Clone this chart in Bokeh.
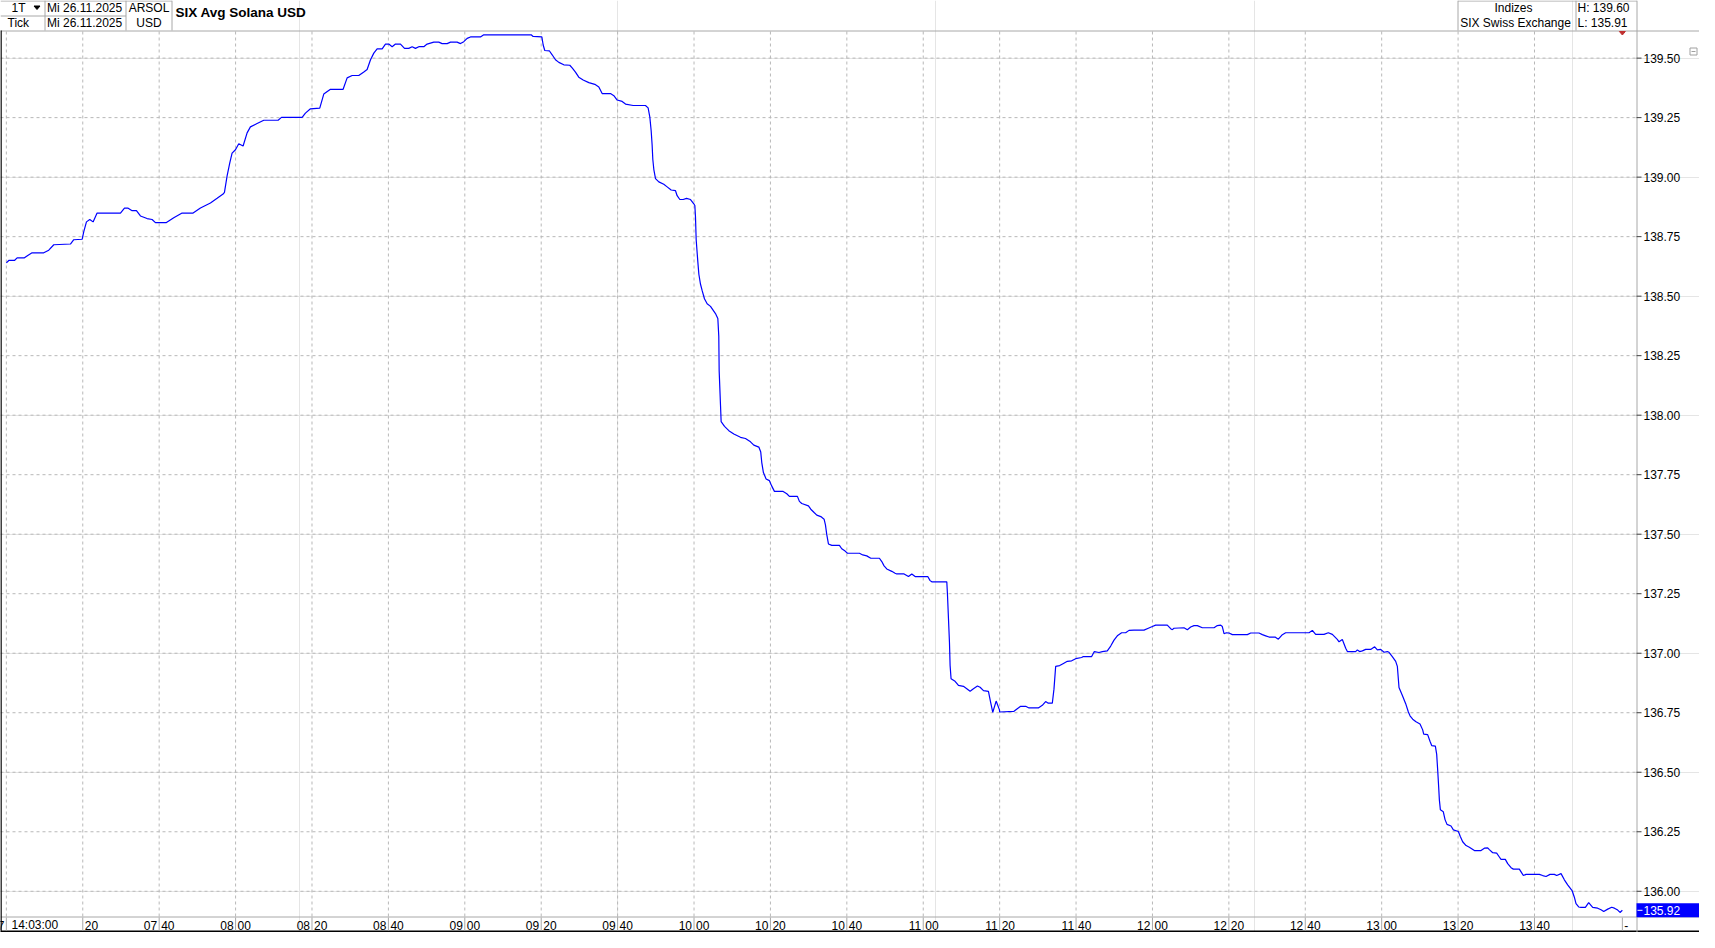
import pandas as pd
from bokeh.plotting import figure
from bokeh.models import Range1d
from bokeh.core.properties import value
from bokeh.embed import file_html
from bokeh.resources import INLINE

# ---------------- data ----------------
DATE = "2025-11-26"
TITLE = "SIX Avg Solana USD"
SYMBOL = "ARSOL"
CURRENCY = "USD"
MARKET = "SIX Swiss Exchange"
GROUP = "Indizes"
DATE_LABEL = "Mi 26.11.2025"
INTERVAL = "1T"
MODE = "Tick"

times = [
    "07:00:00", "07:00:38", "07:02:07", "07:02:49", "07:04:44", "07:05:36", "07:06:44", "07:09:47",
    "07:11:06", "07:12:25", "07:16:46", "07:17:39", "07:19:50", "07:20:16", "07:20:58", "07:21:50",
    "07:22:42", "07:23:45", "07:29:52", "07:30:55", "07:31:47", "07:32:55", "07:34:03", "07:35:06",
    "07:36:50", "07:38:09", "07:39:01", "07:41:54", "07:43:49", "07:46:00", "07:48:53", "07:50:48",
    "07:53:25", "07:55:10", "07:56:44", "07:57:05", "07:57:47", "07:58:29", "07:59:05", "07:59:58",
    "08:00:50", "08:01:58", "08:03:01", "08:03:53", "08:05:38", "08:07:23", "08:11:08", "08:12:01",
    "08:17:25", "08:18:17", "08:19:36", "08:22:02", "08:23:05", "08:24:50", "08:28:09", "08:29:12",
    "08:30:31", "08:32:15", "08:33:34", "08:34:26", "08:35:19", "08:36:11", "08:37:03", "08:38:22",
    "08:39:14", "08:40:06", "08:40:59", "08:41:51", "08:43:10", "08:44:13", "08:45:20", "08:46:13",
    "08:47:05", "08:47:58", "08:49:16", "08:50:08", "08:51:53", "08:53:11", "08:54:04", "08:55:23",
    "08:56:15", "08:57:59", "08:58:52", "08:59:44", "09:00:37", "09:01:29", "09:04:06", "09:04:58",
    "09:17:22", "09:17:53", "09:20:10", "09:20:31", "09:20:56", "09:22:10", "09:22:52", "09:23:44",
    "09:24:37", "09:25:55", "09:27:29", "09:28:06", "09:28:58", "09:29:50", "09:30:59", "09:32:28",
    "09:34:02", "09:35:05", "09:35:57", "09:38:08", "09:39:01", "09:39:53", "09:41:11", "09:42:04",
    "09:44:04", "09:47:17", "09:47:59", "09:48:26", "09:48:47", "09:49:02", "09:49:13", "09:49:29",
    "09:49:55", "09:50:47", "09:52:05", "09:52:58", "09:54:01", "09:55:09", "09:55:35", "09:56:17",
    "09:57:10", "09:58:02", "09:59:05", "09:59:57", "10:00:13", "10:00:23", "10:00:34", "10:00:59",
    "10:01:16", "10:01:41", "10:02:08", "10:02:44", "10:03:26", "10:04:19", "10:05:37", "10:06:14",
    "10:06:29", "10:06:35", "10:06:56", "10:07:06", "10:07:59", "10:09:07", "10:10:25", "10:12:10",
    "10:13:28", "10:14:47", "10:15:39", "10:16:58", "10:17:28", "10:17:44", "10:18:10", "10:18:52",
    "10:19:44", "10:20:21", "10:21:03", "10:23:14", "10:24:17", "10:24:58", "10:27:04", "10:27:35",
    "10:28:12", "10:29:57", "10:30:34", "10:31:26", "10:32:08", "10:33:11", "10:34:03", "10:34:24",
    "10:34:45", "10:35:11", "10:36:04", "10:38:04", "10:38:40", "10:39:33", "10:40:10", "10:43:18",
    "10:44:10", "10:45:13", "10:46:16", "10:48:32", "10:49:09", "10:49:45", "10:50:27", "10:51:46",
    "10:52:38", "10:53:04", "10:54:59", "10:56:08", "10:57:00", "10:57:52", "11:01:11", "11:01:48",
    "11:02:14", "11:06:10", "11:06:20", "11:06:36", "11:06:52", "11:07:02", "11:07:17", "11:08:20",
    "11:09:13", "11:10:31", "11:11:24", "11:12:16", "11:13:08", "11:14:11", "11:14:53", "11:15:46",
    "11:17:04", "11:17:41", "11:18:12", "11:19:05", "11:19:57", "11:20:00", "11:23:45", "11:24:37",
    "11:25:30", "11:26:49", "11:27:41", "11:30:07", "11:31:10", "11:32:02", "11:32:44", "11:33:47",
    "11:34:13", "11:34:40", "11:35:43", "11:36:35", "11:37:43", "11:38:51", "11:39:54", "11:41:28",
    "11:41:54", "11:44:05", "11:44:47", "11:46:00", "11:46:53", "11:48:11", "11:49:04", "11:49:56",
    "11:50:48", "11:51:56", "11:52:59", "11:53:52", "11:55:10", "11:57:47", "11:58:55", "11:59:58",
    "12:00:50", "12:03:53", "12:04:46", "12:05:12", "12:05:38", "12:08:15", "12:09:08", "12:10:00",
    "12:10:52", "12:11:45", "12:13:03", "12:16:07", "12:16:59", "12:17:51", "12:18:17", "12:18:44",
    "12:19:20", "12:20:02", "12:20:55", "12:24:50", "12:25:43", "12:27:53", "12:28:46", "12:29:38",
    "12:30:31", "12:32:05", "12:32:57", "12:34:00", "12:34:52", "12:40:59", "12:41:51", "12:42:43",
    "12:44:54", "12:46:02", "12:47:05", "12:48:23", "12:48:50", "12:49:42", "12:50:35", "12:51:01",
    "12:53:11", "12:53:38", "12:54:14", "12:54:56", "12:55:49", "12:57:07", "12:58:10", "12:58:52",
    "12:59:44", "13:00:37", "13:01:29", "13:01:55", "13:02:47", "13:03:40", "13:04:06", "13:04:32",
    "13:05:25", "13:06:17", "13:06:59", "13:07:25", "13:08:07", "13:08:59", "13:10:02", "13:10:44",
    "13:11:00", "13:12:02", "13:12:39", "13:13:05", "13:14:03", "13:14:24", "13:14:40", "13:14:55",
    "13:15:06", "13:15:22", "13:16:08", "13:16:35", "13:17:06", "13:18:09", "13:18:46", "13:20:04",
    "13:20:35", "13:21:12", "13:22:05", "13:22:57", "13:24:16", "13:26:00", "13:26:53", "13:27:45",
    "13:28:11", "13:29:04", "13:30:06", "13:30:48", "13:31:14", "13:32:22", "13:32:59", "13:33:52",
    "13:34:28", "13:36:02", "13:36:44", "13:37:05", "13:37:47", "13:41:16", "13:42:09", "13:43:01",
    "13:44:04", "13:45:12", "13:45:49", "13:46:57", "13:47:49", "13:48:41", "13:49:50", "13:50:26",
    "13:50:52", "13:51:34", "13:52:11", "13:53:19", "13:54:11", "13:55:14", "13:56:32", "13:57:25",
    "13:58:07", "13:59:10", "14:00:13", "14:00:55", "14:01:47", "14:02:23", "14:03:00",
]

prices = [
    138.640, 138.650, 138.650, 138.661, 138.661, 138.671, 138.682, 138.682,
    138.693, 138.716, 138.719, 138.737, 138.739, 138.771, 138.812, 138.822,
    138.812, 138.849, 138.849, 138.870, 138.870, 138.859, 138.859, 138.837,
    138.826, 138.822, 138.809, 138.809, 138.829, 138.849, 138.849, 138.870,
    138.891, 138.911, 138.929, 138.936, 139.005, 139.060, 139.101, 139.115,
    139.140, 139.131, 139.186, 139.211, 139.225, 139.239, 139.239, 139.251,
    139.251, 139.269, 139.287, 139.290, 139.349, 139.369, 139.369, 139.417,
    139.427, 139.427, 139.442, 139.452, 139.493, 139.521, 139.539, 139.539,
    139.559, 139.559, 139.548, 139.559, 139.559, 139.541, 139.541, 139.548,
    139.541, 139.548, 139.548, 139.559, 139.567, 139.567, 139.561, 139.561,
    139.567, 139.567, 139.561, 139.569, 139.583, 139.589, 139.589, 139.598,
    139.598, 139.591, 139.589, 139.555, 139.532, 139.530, 139.514, 139.493,
    139.482, 139.472, 139.470, 139.459, 139.441, 139.420, 139.408, 139.397,
    139.390, 139.379, 139.351, 139.351, 139.342, 139.324, 139.318, 139.307,
    139.301, 139.301, 139.291, 139.252, 139.195, 139.135, 139.074, 139.032,
    138.994, 138.980, 138.970, 138.959, 138.946, 138.943, 138.922, 138.906,
    138.906, 138.911, 138.906, 138.888, 138.881, 138.833, 138.737, 138.647,
    138.592, 138.551, 138.523, 138.489, 138.468, 138.457, 138.427, 138.406,
    138.331, 138.186, 138.042, 137.973, 137.953, 137.935, 137.921, 137.907,
    137.902, 137.888, 137.874, 137.866, 137.845, 137.801, 137.759, 137.732,
    137.725, 137.702, 137.680, 137.680, 137.670, 137.659, 137.659, 137.638,
    137.629, 137.619, 137.605, 137.591, 137.580, 137.574, 137.563, 137.539,
    137.498, 137.459, 137.453, 137.453, 137.439, 137.429, 137.420, 137.420,
    137.413, 137.409, 137.399, 137.399, 137.385, 137.367, 137.354, 137.344,
    137.336, 137.333, 137.333, 137.322, 137.333, 137.322, 137.322, 137.305,
    137.300, 137.300, 137.250, 137.147, 137.044, 136.948, 136.893, 136.882,
    136.865, 136.861, 136.851, 136.840, 136.851, 136.862, 136.857, 136.843,
    136.840, 136.790, 136.752, 136.799, 136.762, 136.753, 136.756, 136.767,
    136.777, 136.777, 136.770, 136.770, 136.781, 136.797, 136.790, 136.790,
    136.849, 136.945, 136.948, 136.956, 136.966, 136.968, 136.977, 136.982,
    136.986, 136.986, 137.007, 137.003, 137.007, 137.010, 137.030, 137.055,
    137.073, 137.086, 137.086, 137.096, 137.097, 137.097, 137.105, 137.112,
    137.118, 137.118, 137.103, 137.099, 137.105, 137.107, 137.099, 137.110,
    137.116, 137.116, 137.107, 137.107, 137.116, 137.118, 137.112, 137.082,
    137.086, 137.085, 137.078, 137.078, 137.085, 137.085, 137.078, 137.073,
    137.068, 137.068, 137.059, 137.078, 137.086, 137.086, 137.096, 137.079,
    137.079, 137.086, 137.079, 137.058, 137.048, 137.058, 137.021, 137.007,
    137.007, 137.014, 137.007, 137.010, 137.016, 137.016, 137.027, 137.014,
    137.016, 137.004, 137.007, 137.004, 136.986, 136.966, 136.945, 136.856,
    136.822, 136.788, 136.753, 136.737, 136.723, 136.712, 136.703, 136.678,
    136.660, 136.658, 136.630, 136.612, 136.610, 136.575, 136.507, 136.438,
    136.384, 136.342, 136.334, 136.301, 136.281, 136.274, 136.258, 136.251,
    136.230, 136.208, 136.192, 136.185, 136.171, 136.171, 136.181, 136.182,
    136.175, 136.162, 136.160, 136.144, 136.134, 136.134, 136.116, 136.099,
    136.093, 136.093, 136.075, 136.066, 136.071, 136.071, 136.066, 136.062,
    136.071, 136.071, 136.066, 136.074, 136.048, 136.027, 136.003, 135.975,
    135.948, 135.934, 135.932, 135.932, 135.952, 135.932, 135.929, 135.922,
    135.915, 135.925, 135.933, 135.929, 135.921, 135.911, 135.920,
]

x_tick_labels = ["07:00", "07:20", "07:40", "08:00", "08:20", "08:40", "09:00", "09:20",
                 "09:40", "10:00", "10:20", "10:40", "11:00", "11:20", "11:40", "12:00",
                 "12:20", "12:40", "13:00", "13:20", "13:40"]
y_ticks = [136.00, 136.25, 136.50, 136.75, 137.00, 137.25, 137.50, 137.75,
           138.00, 138.25, 138.50, 138.75, 139.00, 139.25, 139.50]

VIEW_START = "06:58:28"
VIEW_END = "14:06:42"
Y_LOW, Y_HIGH = 135.894, 139.616

# ---------------- layout constants (pixels) ----------------
W, H = 1699, 932
FRAME_W = 1636            # plot area width (right price scale beyond)
HEADER_H = 30
BAND_H = 16
PLOT_H = H - HEADER_H - BAND_H

FONT = "Liberation Sans"
GRID_C = "#b8b8b8"
LINE_C = "#a8a8a8"


def to_ms(hms_list):
    ts = pd.to_datetime([f"{DATE} {s}" for s in hms_list])
    return list(ts.astype("int64") / 1e6)


t_ms = to_ms(times)
tick_ms = to_ms(x_tick_labels)
xs_ms, xe_ms = to_ms([VIEW_START, VIEW_END])

ms_per_px = (xe_ms - xs_ms) / FRAME_W
v_per_px = (Y_HIGH - Y_LOW) / PLOT_H
x_full_end = xs_ms + ms_per_px * W
y_full_high = Y_HIGH + v_per_px * HEADER_H
y_full_low = Y_LOW - v_per_px * BAND_H

p = figure(width=W, height=H,
           x_range=Range1d(xs_ms, x_full_end), y_range=Range1d(y_full_low, y_full_high),
           x_axis_location=None, y_axis_location=None, output_backend="svg",
           toolbar_location=None, min_border_left=0, min_border_right=0,
           min_border_top=0, min_border_bottom=0, outline_line_color=None,
           background_fill_color="white", border_fill_color="white")
p.extra_x_ranges = {"px": Range1d(0, W)}
p.extra_y_ranges = {"px": Range1d(H, 0)}
PX = dict(x_range_name="px", y_range_name="px")
TXT = dict(text_font=value(FONT), text_font_size="12px", text_color="black",
           text_baseline="middle")

# ---- grid (dashed) ----
n_x, n_y = len(tick_ms), len(y_ticks)
p.segment(x0=tick_ms, y0=[Y_LOW] * n_x, x1=tick_ms, y1=[Y_HIGH] * n_x,
          line_color=GRID_C, line_dash="3 3", line_width=1)
p.segment(x0=[xs_ms] * n_y, y0=y_ticks, x1=[xe_ms] * n_y, y1=y_ticks,
          line_color=GRID_C, line_dash="3 3", line_width=1)

# ---- price line ----
p.line(t_ms, prices, line_color="#0000ff", line_width=1.2)

# ---- frame lines ----
p.segment(x0=[0, 0, 0], y0=[HEADER_H + 0.5, H - BAND_H + 0.5, H - 1],
          x1=[W, W, W], y1=[HEADER_H + 0.5, H - BAND_H + 0.5, H - 1],
          line_color=[LINE_C, LINE_C, "black"], line_width=[1, 1, 2], **PX)
p.segment(x0=[FRAME_W + 0.5], y0=[0], x1=[FRAME_W + 0.5], y1=[H], line_color=LINE_C, **PX)
p.segment(x0=[0.5], y0=[HEADER_H], x1=[0.5], y1=[H], line_color="black", line_width=1.5, **PX)

# ---- right price scale ----
p.ray(x=[xe_ms] * n_y, y=y_ticks, length=5, length_units="screen", angle=0,
      line_color="#404040", line_width=1)
p.text(x=[xe_ms] * n_y, y=y_ticks, text=[f"{v:.2f}" for v in y_ticks], x_offset=7,
       text_align="left", **TXT)

last_px, last_val = t_ms[-1], prices[-1]
p.rect(x=[(xe_ms + x_full_end) / 2], y=[last_val], width=[x_full_end - xe_ms], height=14,
       height_units="screen", fill_color="#0000ff", line_color=None)
p.ray(x=[xe_ms + ms_per_px], y=[last_val], length=5, length_units="screen", angle=0,
      line_color="white", line_width=1)
p.text(x=[xe_ms], y=[last_val], text=[f"{last_val:.2f}"], x_offset=7, text_align="left",
       text_font=value(FONT), text_font_size="12px", text_color="white", text_baseline="middle")

# last-tick marker under the header
p.patch(x=[last_px - 3 * ms_per_px, last_px + 3 * ms_per_px, last_px],
        y=[HEADER_H + 1, HEADER_H + 1, HEADER_H + 4.5],
        y_range_name="px", fill_color="#c03030", line_color="#c03030")

# collapse box icon
p.quad(left=[W - 9.5], right=[W - 2.5], top=[47.5], bottom=[54.5],
       fill_color="white", line_color="#a0a0a0", **PX)
p.segment(x0=[W - 8], y0=[51], x1=[W - 4], y1=[51], line_color="#a0a0a0", **PX)

# ---- time band ----
band_top, band_mid = H - BAND_H, H - BAND_H + 8.5
all_ticks = tick_ms + [last_px]
p.segment(x0=all_ticks, y0=[band_top + 1] * len(all_ticks), x1=all_ticks,
          y1=[H - 2] * len(all_ticks), line_color=LINE_C, y_range_name="px")
hours = [s.split(":")[0] for s in x_tick_labels]
mins = [s.split(":")[1] for s in x_tick_labels]
hours[1] = ""          # hidden by the last-time label
mins[0] = ""
p.text(x=tick_ms, y=[band_mid] * n_x, text=hours, x_offset=-2, text_align="right",
       y_range_name="px", **TXT)
p.text(x=all_ticks, y=[band_mid] * (n_x + 1), text=mins + ["-"], x_offset=2,
       text_align="left", y_range_name="px", **TXT)
p.text(x=[xs_ms], y=[band_mid], text=[times[-1]], x_offset=11, text_align="left",
       y_range_name="px", **TXT)

# ---- header ----
vx = [44.5, 125.5, 171.5, 1457.5, 1575.5]
p.segment(x0=vx, y0=[0] * len(vx), x1=vx, y1=[HEADER_H] * len(vx), line_color=LINE_C, **PX)
p.segment(x0=[0, 0, 1457.5], y0=[15.5, 0.5, 0.5], x1=[125.5, 171.5, FRAME_W + 0.5],
          y1=[15.5, 0.5, 0.5], line_color=LINE_C, **PX)

row1, row2 = 7.5, 22.5
hi_txt = f"H: {max(prices):.2f}"
lo_txt = f"L: {min(prices):.2f}"
p.text(x=[11, 46.5, 1577, 7, 46.5, 1577], y=[row1] * 3 + [row2] * 3,
       text=[INTERVAL, DATE_LABEL, hi_txt, MODE, DATE_LABEL, lo_txt],
       text_align="left", **PX, **TXT)
p.text(x=[148.5, 148.5, 1513, 1515], y=[row1, row2, row1, row2],
       text=[SYMBOL, CURRENCY, GROUP, MARKET], text_align="center", **PX, **TXT)
p.text(x=[175], y=[11.5], text=[TITLE], text_font=value(FONT), text_font_size="13.5px",
       text_font_style="bold", text_color="black", text_baseline="middle",
       text_align="left", **PX)
p.patch(x=[33.5, 39.5, 36.5], y=[5.5, 5.5, 9], fill_color="black", line_color="black", **PX)

open("out.html", "w").write(file_html(p, INLINE))
